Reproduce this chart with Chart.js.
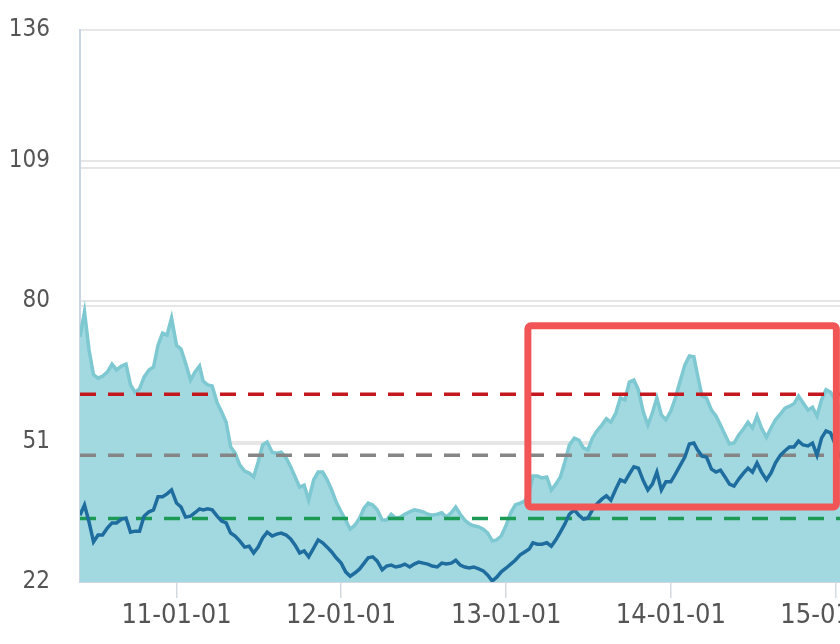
<!DOCTYPE html>
<html>
<head>
<meta charset="utf-8">
<script src="https://cdn.jsdelivr.net/npm/chart.js@4.4.1/dist/chart.umd.min.js"></script>
<style>
html,body{margin:0;padding:0;background:#ffffff;overflow:hidden;}
#wrap{width:840px;height:644px;position:relative;}
</style>
</head>
<body>
<div id="wrap"><canvas id="c" width="840" height="644"></canvas></div>
<script>
// ---------- data ----------
const dates = [
 '2010-06-01','2010-06-11','2010-06-21','2010-07-01','2010-07-11','2010-07-21',
 '2010-08-01','2010-08-11','2010-08-21','2010-09-01','2010-09-11','2010-09-21',
 '2010-10-01','2010-10-11','2010-10-21','2010-11-01','2010-11-11','2010-11-21',
 '2010-12-01','2010-12-11','2010-12-21',
 '2011-01-01','2011-01-11','2011-01-21','2011-02-01','2011-02-11','2011-02-21',
 '2011-03-01','2011-03-11','2011-03-21','2011-04-01','2011-04-11','2011-04-21',
 '2011-05-01','2011-05-11','2011-05-21','2011-06-01','2011-06-11','2011-06-21',
 '2011-07-01','2011-07-11','2011-07-21','2011-08-01','2011-08-11','2011-08-21',
 '2011-09-01','2011-09-11','2011-09-21','2011-10-01','2011-10-11','2011-10-21',
 '2011-11-01','2011-11-11','2011-11-21','2011-12-01','2011-12-11','2011-12-21',
 '2012-01-01','2012-01-11','2012-01-21','2012-02-01','2012-02-11','2012-02-21',
 '2012-03-01','2012-03-11','2012-03-21','2012-04-01','2012-04-11','2012-04-21',
 '2012-05-01','2012-05-11','2012-05-21','2012-06-01','2012-06-11','2012-06-21',
 '2012-07-01','2012-07-11','2012-07-21','2012-08-01','2012-08-11','2012-08-21',
 '2012-09-01','2012-09-11','2012-09-21','2012-10-01','2012-10-11','2012-10-21',
 '2012-11-01','2012-11-11','2012-11-21','2012-12-01','2012-12-11','2012-12-21',
 '2013-01-01','2013-01-11','2013-01-21','2013-02-01','2013-02-11','2013-02-21',
 '2013-03-01','2013-03-11','2013-03-21','2013-04-01','2013-04-11','2013-04-21',
 '2013-05-01','2013-05-11','2013-05-21','2013-06-01','2013-06-11','2013-06-21',
 '2013-07-01','2013-07-11','2013-07-21','2013-08-01','2013-08-11','2013-08-21',
 '2013-09-01','2013-09-11','2013-09-21','2013-10-01','2013-10-11','2013-10-21',
 '2013-11-01','2013-11-11','2013-11-21','2013-12-01','2013-12-11','2013-12-21',
 '2014-01-01','2014-01-11','2014-01-21','2014-02-01','2014-02-11','2014-02-21',
 '2014-03-01','2014-03-11','2014-03-21','2014-04-01','2014-04-11','2014-04-21',
 '2014-05-01','2014-05-11','2014-05-21','2014-06-01','2014-06-11','2014-06-21',
 '2014-07-01','2014-07-11','2014-07-21','2014-08-01','2014-08-11','2014-08-21',
 '2014-09-01','2014-09-11','2014-09-21','2014-10-01','2014-10-11','2014-10-21',
 '2014-11-01','2014-11-11','2014-11-21','2014-12-01','2014-12-11','2014-12-21',
 '2015-01-01','2015-01-11'
];

// light teal area series
const upperValues = [
 72.6,77.8,69.9, 64.8,64.1,64.5, 65.4,67.0,65.8, 66.6,67.0,62.7,
 61.2,61.9,64.3, 65.8,66.4,70.9, 73.4,73.0,76.5,
 70.9,70.1,67.2, 63.7,65.4,66.6, 63.5,62.7,62.5, 59.0,57.1,55.0,
 49.9,48.6,46.2, 44.9,44.5,43.7, 46.8,50.3,50.9, 48.8,48.6,48.8,
 47.6,45.8,43.7, 41.6,42.0,38.9, 43.1,44.7,44.7, 43.1,41.0,38.5,
 36.5,34.8,32.9, 33.8,35.2,37.3, 38.3,37.9,36.9, 34.8,34.8,36.0,
 35.2,35.4,36.0, 36.5,36.9,36.7, 36.5,36.0,35.8, 36.0,36.3,35.4,
 36.3,37.5,36.0, 34.8,34.0,33.6, 33.4,32.9,32.1, 30.5,30.7,31.5,
 33.8,36.3,37.9, 38.3,38.7,40.4, 43.9,43.9,43.5, 43.7,41.0,42.2,
 43.7,46.8,50.3, 51.7,51.3,49.7, 49.3,51.7,53.2, 54.4,55.7,55.0,
 56.9,60.0,59.6, 63.3,63.7,61.7, 57.1,54.4,56.9, 60.0,56.5,55.5,
 57.3,60.0,63.3, 66.8,68.7,68.5, 64.8,60.4,60.0, 57.5,56.3,54.4,
 52.4,50.5,50.7, 52.4,53.6,55.0, 53.8,56.3,53.8, 51.9,53.8,55.5,
 56.7,57.9,58.3, 58.8,60.4,59.0, 57.5,58.1,56.3, 59.6,61.7,61.2,
 59.6,57.5
];

// dark blue line series
const lowerValues = [
 35.8,37.9,34.4, 30.3,31.7,31.7, 33.2,34.2,34.2, 35.0,35.2,32.3,
 32.5,32.5,35.6, 36.5,36.9,39.6, 39.6,40.2,41.0,
 38.3,37.5,35.4, 35.6,36.3,37.1, 36.9,37.1,36.9, 35.6,34.6,34.2,
 32.1,31.5,30.5, 29.2,29.4,28.0, 29.2,31.1,32.3, 31.5,31.9,32.1,
 31.7,30.9,29.6, 28.0,28.4,27.2, 29.0,30.7,30.1, 29.2,28.2,27.0,
 25.9,24.1,23.2, 23.9,24.7,25.9, 27.0,27.2,26.3, 24.5,25.3,25.5,
 25.1,25.3,25.7, 25.1,25.7,26.1, 25.9,25.7,25.3, 25.1,25.9,25.7,
 25.9,26.5,25.5, 25.1,24.9,25.1, 24.7,24.3,23.4, 22.2,23.0,24.1,
 24.9,25.7,26.5, 27.6,28.2,28.8, 30.1,29.8,29.8, 30.1,29.4,30.7,
 32.3,34.0,36.0, 36.9,35.8,35.0, 35.2,36.9,38.1, 39.1,39.8,38.9,
 41.2,43.1,42.7, 44.3,45.8,45.5, 42.9,41.0,42.2, 44.7,41.0,42.7,
 42.7,44.3,46.0, 47.8,50.5,50.7, 49.3,48.0,47.8, 45.3,44.7,45.1,
 43.7,42.2,41.8, 43.3,44.5,45.5, 44.7,46.6,44.7, 43.1,44.5,46.6,
 48.2,49.1,49.9, 49.9,51.1,50.3, 50.1,50.7,48.2, 51.7,53.2,52.8,
 50.3,47.6
];

// reference levels (dashed lines)
const levelValues = [60.8, 48.2, 35.1];
const levelColors = ['#c4171d', '#858585', '#1d9a55'];

// axis ticks
const yTickValues = [22, 51, 80, 109, 136];
const yearTickDates = ['2011-01-01','2012-01-01','2013-01-01','2014-01-01','2015-01-01'];
const yearTickLabels = ['11-01-01','12-01-01','13-01-01','14-01-01','15-01-01'];

// highlighted region (data coordinates)
const highlightDates = ['2013-02-18', '2015-01-03'];
const highlightValues = [74.9, 37.5];

// ---------- chart ----------
const toTime = s => Date.parse(s + 'T00:00:00Z');
const xMin = toTime(dates[0]);
const xMax = toTime(dates[dates.length - 1]);
const FONT = '"DejaVu Sans Condensed", "Liberation Sans Narrow", sans-serif';

const highlightBox = {
  id: 'highlightBox',
  afterDatasetsDraw(chart) {
    const {ctx, scales: {x, y}} = chart;
    const x0 = x.getPixelForValue(toTime(highlightDates[0]));
    const x1 = x.getPixelForValue(toTime(highlightDates[1]));
    const y0 = y.getPixelForValue(highlightValues[0]);
    const y1 = y.getPixelForValue(highlightValues[1]);
    ctx.save();
    ctx.strokeStyle = '#f25555';
    ctx.lineWidth = 7;
    ctx.lineJoin = 'round';
    ctx.beginPath();
    if (ctx.roundRect) ctx.roundRect(x0, y0, x1 - x0, y1 - y0, 3);
    else ctx.rect(x0, y0, x1 - x0, y1 - y0);
    ctx.stroke();
    ctx.restore();
  }
};

const levelDatasets = levelValues.map((v, i) => ({
  data: [{x: xMin, y: v}, {x: xMax, y: v}],
  borderColor: levelColors[i],
  borderWidth: 3.5,
  borderDash: [16, 12],
  pointRadius: 0,
  fill: false,
  order: 1
}));

new Chart(document.getElementById('c'), {
  type: 'line',
  data: {
    datasets: [
      {
        data: dates.map((d, i) => ({x: toTime(d), y: lowerValues[i]})),
        borderColor: '#1e6d9e',
        borderWidth: 3.5,
        pointRadius: 0,
        fill: false,
        order: 0
      },
      ...levelDatasets,
      {
        data: dates.map((d, i) => ({x: toTime(d), y: upperValues[i]})),
        borderColor: '#7dc8d1',
        backgroundColor: '#a2d9e1',
        borderWidth: 3.5,
        pointRadius: 0,
        fill: 'start',
        order: 2
      }
    ]
  },
  options: {
    responsive: false,
    animation: false,
    events: [],
    layout: {padding: {top: 30, left: 0, right: 0, bottom: 0}},
    plugins: {legend: {display: false}, tooltip: {enabled: false}},
    scales: {
      x: {
        type: 'linear',
        min: xMin,
        max: xMax,
        afterBuildTicks: s => { s.ticks = yearTickDates.map(d => ({value: toTime(d)})); },
        afterFit: s => { s.paddingLeft = 0; s.paddingRight = 0; s.height = 62; },
        ticks: {
          autoSkip: false,
          maxRotation: 0,
          padding: 2,
          color: '#555555',
          font: {family: FONT, size: 27},
          callback: v => {
            const i = yearTickDates.findIndex(d => toTime(d) === v);
            return i >= 0 ? yearTickLabels[i] : '';
          }
        },
        grid: {display: true, drawOnChartArea: false, drawTicks: true, tickLength: 16, color: '#d3d9e1', lineWidth: 1.5},
        border: {display: true, color: '#d0d6de', width: 2}
      },
      y: {
        type: 'linear',
        position: 'left',
        min: 22,
        max: 136,
        afterBuildTicks: s => { s.ticks = yTickValues.map(v => ({value: v})); },
        afterFit: s => { s.width = 80; s.paddingTop = 0; s.paddingBottom = 0; },
        ticks: {
          padding: 30,
          color: '#555555',
          font: {family: FONT, size: 24},
          callback: v => String(v)
        },
        grid: {color: '#e6e6e6', lineWidth: 2, drawTicks: false},
        border: {display: true, color: '#c9d5e3', width: 2}
      },
      y2: {
        type: 'linear',
        position: 'right',
        min: 0,
        max: 4,
        ticks: {display: false, stepSize: 1},
        afterFit: s => { s.width = 0; s.paddingTop = 0; s.paddingBottom = 0; },
        grid: {color: '#e6e6e6', lineWidth: 2, drawTicks: false},
        border: {display: false}
      }
    }
  },
  plugins: [highlightBox]
});
</script>
</body>
</html>
